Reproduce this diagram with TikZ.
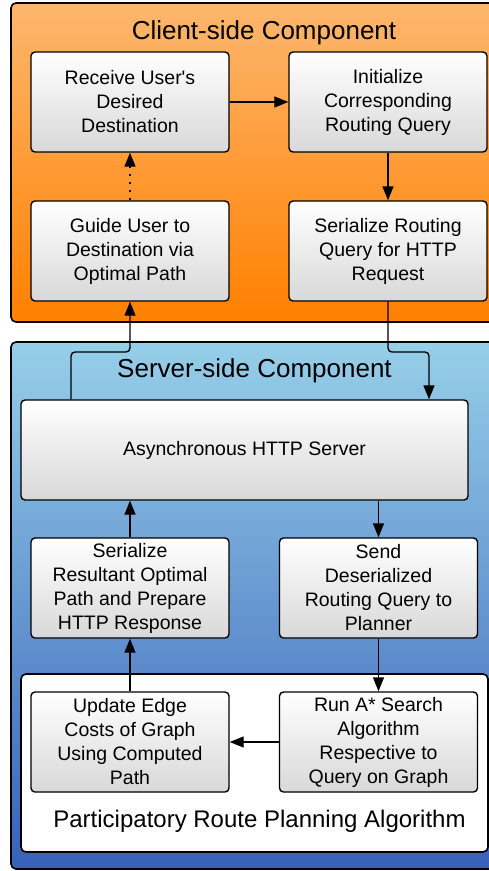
\documentclass[tikz,border=0pt]{standalone}
\usepackage{fontspec}
\setmainfont{Liberation Sans}
\usetikzlibrary{arrows.meta,positioning,calc}
\definecolor{clientlight}{RGB}{253,183,110}
\definecolor{clientdark}{RGB}{255,128,0}
\definecolor{serverlight}{RGB}{150,207,233}
\definecolor{serverdark}{RGB}{56,96,185}
\definecolor{boxgray}{RGB}{216,216,216}

\begin{document}
\begin{tikzpicture}[x=1pt,y=-1pt,
    stepbox/.style={draw, line width=1.4pt, rounded corners=4pt, top color=white, bottom color=boxgray,
        minimum width=198pt, minimum height=100pt, inner sep=0pt, align=center,
        font=\fontsize{19.5}{24}\selectfont},
    panel/.style={draw, line width=1.6pt, rounded corners=5pt},
    paneltitle/.style={anchor=base, font=\fontsize{26}{30}\selectfont},
    flow/.style={line width=1.4pt, -{Triangle[length=14pt,width=11pt]}}]
    \useasboundingbox (0,0) rectangle (489,871);
    \clip (0,0) rectangle (489,871);

    % containers
    \path[panel, top color=clientlight, bottom color=clientdark] (11,3) rectangle (505,322);
    \path[panel, top color=serverlight, bottom color=serverdark] (11,342) rectangle (505,869);
    \path[panel, fill=white] (21,674) rectangle (488,852);
    \node[paneltitle] (clienttitle) at (264,39) {Client-side Component};
    \node[paneltitle] (servertitle) at (254.5,377) {Server-side Component};
    \node[anchor=base, font=\fontsize{24}{28}\selectfont] (plannertitle) at (259.5,827) {Participatory Route Planning Algorithm};

    % client side
    \node[stepbox] (recv) at (130,102) {Receive User\textquotesingle s\\Desired\\Destination};
    \node[stepbox] (init) at (388,102) {Initialize\\Corresponding\\Routing Query};
    \node[stepbox] (guide) at (130,251) {Guide User to\\Destination via\\Optimal Path};
    \node[stepbox] (serq) at (388,251) {Serialize Routing\\Query for HTTP\\Request};

    % server side
    \node[stepbox, minimum width=447pt] (server) at (244.5,450) {Asynchronous HTTP Server};
    \node[stepbox] (serres) at (130,588) {Serialize\\Resultant Optimal\\Path and Prepare\\HTTP Response};
    \node[stepbox] (send) at (378.5,588) {Send\\Deserialized\\Routing Query to\\Planner};
    \node[stepbox] (update) at (130,742) {Update Edge\\Costs of Graph\\Using Computed\\Path};
    \node[stepbox] (astar) at (378.5,742) {Run A* Search\\Algorithm\\Respective to\\Query on Graph};

    \coordinate (upleft) at (71,352);
    \coordinate (downright) at (429,352);

    \draw[flow] (recv) -- (init);
    \draw[flow] (init) -- (serq);
    \draw[flow, dash pattern=on 2pt off 6pt] (guide) -- (recv);
    \draw[flow, rounded corners=4pt] (serq.south) |- (downright) -- (downright |- server.north);
    \draw[flow, rounded corners=4pt] (upleft |- server.north) -- (upleft) -| (guide.south);
    \draw[flow] (server.south -| send.north) -- (send.north);
    \draw[flow] (send) -- (astar);
    \draw[flow] (astar) -- (update);
    \draw[flow] (update) -- (serres);
    \draw[flow] (serres.north) -- (serres.north |- server.south);
\end{tikzpicture}
\end{document}
